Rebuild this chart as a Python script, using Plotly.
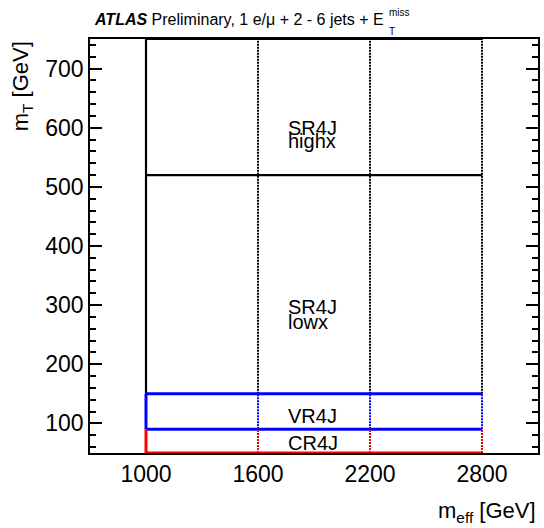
import plotly.graph_objects as go

# ---- data ----
meff_bins = [1000, 1600, 2200, 2800]      # m_eff bin edges [GeV]
cr_mt = [50, 90]                           # CR4J mT window
vr_mt = [90, 150]                          # VR4J mT window
sr_mt = [150, 520, 750]                    # SR4J lowx / highx mT edges
x_ticks = [1000, 1600, 2200, 2800]
y_ticks = [100, 200, 300, 400, 500, 600, 700]

FONT = "Liberation Sans, Arial, Helvetica, sans-serif"
BLACK, BLUE, RED = "#000000", "#0000ff", "#ff0000"

fig = go.Figure()

def region(color, edges, solid_w, dot_w, top_only_h=None):
    lo, hi = edges[0], edges[-1]
    hys = edges if top_only_h is None else top_only_h
    for yv in hys:
        fig.add_trace(go.Scatter(x=[meff_bins[0], meff_bins[-1]], y=[yv, yv], mode="lines",
                                 line=dict(color=color, width=solid_w), hoverinfo="skip",
                                 showlegend=False))
    fig.add_trace(go.Scatter(x=[meff_bins[0], meff_bins[0]], y=[lo, hi], mode="lines",
                             line=dict(color=color, width=solid_w), hoverinfo="skip",
                             showlegend=False))
    for xv in meff_bins[1:]:
        fig.add_trace(go.Scatter(x=[xv, xv], y=[lo, hi], mode="lines",
                                 line=dict(color=color, width=dot_w, dash="2px,1px"),
                                 hoverinfo="skip", showlegend=False))

region(BLACK, sr_mt, 2.2, 2, top_only_h=sr_mt[1:])
region(BLUE, vr_mt, 3, 2)
region(RED, cr_mt, 3, 2, top_only_h=[cr_mt[0]])

# region labels
lab_x = 1752
labels = [("SR4J", 600), ("highx", 577), ("SR4J", 297), ("lowx", 272),
          ("VR4J", 113), ("CR4J", 67)]
for txt, yv in labels:
    fig.add_annotation(x=lab_x, y=yv, xref="x", yref="y", text=txt, showarrow=False,
                       xanchor="left", yanchor="middle",
                       font=dict(family=FONT, size=20, color="#000000"))

# header
fig.add_annotation(x=(387 - 90) / 450, y=1.046, xref="paper", yref="paper",
                   text="<b><i>ATLAS</i></b> Preliminary, 1 e/\u03bc + 2 - 6 jets + E",
                   showarrow=False, xanchor="right", yanchor="middle",
                   font=dict(family=FONT, size=16, color="#000000"))
fig.add_annotation(x=(388 - 90) / 450, y=1.064, xref="paper", yref="paper", text="miss",
                   showarrow=False, xanchor="left", yanchor="middle",
                   font=dict(family=FONT, size=10, color="#000000"))
fig.add_annotation(x=(388 - 90) / 450, y=1.017, xref="paper", yref="paper", text="T",
                   showarrow=False, xanchor="left", yanchor="middle",
                   font=dict(family=FONT, size=10, color="#000000"))

# axis titles
fig.add_annotation(x=1.0, y=-0.142, xref="paper", yref="paper",
                   text="m<sub>eff</sub> [GeV]", showarrow=False, xanchor="right",
                   yanchor="middle", font=dict(family=FONT, size=22, color="#000000"))
fig.add_annotation(x=(22 - 90) / 450, y=1.0, xref="paper", yref="paper",
                   text="m<sub>T</sub> [GeV]", showarrow=False, textangle=-90,
                   xanchor="center", yanchor="top",
                   font=dict(family=FONT, size=22, color="#000000"))

fig.update_xaxes(range=[700, 3100], tickvals=x_ticks, ticktext=[str(v) for v in x_ticks],
                 ticks="", showgrid=False, zeroline=False, showline=True,
                 linecolor="#000000", linewidth=1.5, mirror=True,
                 tickfont=dict(family=FONT, size=23, color="#000000"))
fig.update_yaxes(range=[50, 750], tickvals=y_ticks, ticks="inside", ticklen=12,
                 tickwidth=1.5, tickcolor="#000000",
                 minor=dict(dtick=20, ticks="inside", ticklen=6, tickwidth=1.5,
                            tickcolor="#000000", tick0=0),
                 showgrid=False, zeroline=False, showline=True, linecolor="#000000",
                 linewidth=1.5, mirror="allticks",
                 tickfont=dict(family=FONT, size=23, color="#000000"))

fig.update_layout(width=544, height=528, margin=dict(l=90, r=4, t=39, b=75),
                  paper_bgcolor="white", plot_bgcolor="white", showlegend=False)

fig.write_html("out.html")
